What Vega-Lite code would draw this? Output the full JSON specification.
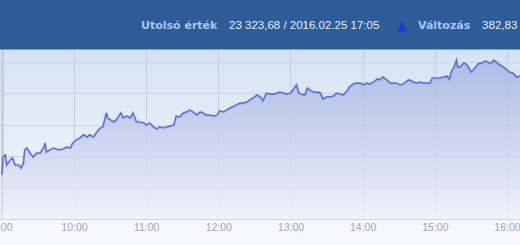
{
  "$schema": "https://vega.github.io/schema/vega-lite/v6.json",
  "width": 520,
  "height": 219,
  "autosize": {"type": "none"},
  "padding": {"left": 0, "right": 0, "top": 0, "bottom": 26},
  "background": "#f7f8fb",
  "config": {
    "view": {
      "stroke": null,
      "fill": {"gradient": "linear", "x1": 0, "y1": 0, "x2": 0, "y2": 1,
        "stops": [{"offset": 0.23, "color": "#d4e3f5"}, {"offset": 0.6, "color": "#e5edf8"}, {"offset": 1, "color": "#f3f5fb"}]}
    }
  },
  "datasets": {
    "bux": [
      {"minute": 540, "v": 22940}, {"minute": 541, "v": 22997}, {"minute": 543, "v": 23004},
      {"minute": 544, "v": 22972}, {"minute": 547, "v": 22988}, {"minute": 549, "v": 22994},
      {"minute": 551, "v": 22972}, {"minute": 554, "v": 22972}, {"minute": 556, "v": 22962},
      {"minute": 558, "v": 22978}, {"minute": 559, "v": 23020}, {"minute": 561, "v": 23026},
      {"minute": 563, "v": 23013}, {"minute": 566, "v": 22997}, {"minute": 569, "v": 23010},
      {"minute": 572, "v": 23010}, {"minute": 575, "v": 23029}, {"minute": 576, "v": 23042},
      {"minute": 577, "v": 23013}, {"minute": 580, "v": 23020}, {"minute": 583, "v": 23026},
      {"minute": 587, "v": 23020}, {"minute": 591, "v": 23023}, {"minute": 594, "v": 23029},
      {"minute": 597, "v": 23026}, {"minute": 599, "v": 23042}, {"minute": 602, "v": 23052},
      {"minute": 605, "v": 23058}, {"minute": 608, "v": 23068}, {"minute": 611, "v": 23061},
      {"minute": 613, "v": 23068}, {"minute": 616, "v": 23061}, {"minute": 619, "v": 23077},
      {"minute": 622, "v": 23090}, {"minute": 624, "v": 23093}, {"minute": 627, "v": 23138},
      {"minute": 628, "v": 23122}, {"minute": 633, "v": 23109}, {"minute": 635, "v": 23115},
      {"minute": 639, "v": 23138}, {"minute": 641, "v": 23122}, {"minute": 644, "v": 23128},
      {"minute": 647, "v": 23122}, {"minute": 649, "v": 23138}, {"minute": 652, "v": 23109},
      {"minute": 655, "v": 23109}, {"minute": 658, "v": 23106}, {"minute": 660, "v": 23099},
      {"minute": 663, "v": 23106}, {"minute": 666, "v": 23093}, {"minute": 669, "v": 23087},
      {"minute": 671, "v": 23093}, {"minute": 674, "v": 23090}, {"minute": 677, "v": 23093},
      {"minute": 680, "v": 23096}, {"minute": 683, "v": 23099}, {"minute": 685, "v": 23128},
      {"minute": 687, "v": 23125}, {"minute": 688, "v": 23125}, {"minute": 691, "v": 23138},
      {"minute": 694, "v": 23141}, {"minute": 696, "v": 23147}, {"minute": 699, "v": 23141},
      {"minute": 702, "v": 23131}, {"minute": 705, "v": 23141}, {"minute": 707, "v": 23138},
      {"minute": 710, "v": 23131}, {"minute": 713, "v": 23131}, {"minute": 716, "v": 23128},
      {"minute": 719, "v": 23131}, {"minute": 721, "v": 23144}, {"minute": 724, "v": 23141},
      {"minute": 727, "v": 23147}, {"minute": 730, "v": 23154}, {"minute": 732, "v": 23157},
      {"minute": 735, "v": 23163}, {"minute": 738, "v": 23169}, {"minute": 741, "v": 23169},
      {"minute": 744, "v": 23173}, {"minute": 746, "v": 23179}, {"minute": 749, "v": 23185},
      {"minute": 752, "v": 23195}, {"minute": 755, "v": 23189}, {"minute": 757, "v": 23176},
      {"minute": 760, "v": 23201}, {"minute": 763, "v": 23198}, {"minute": 766, "v": 23198},
      {"minute": 769, "v": 23201}, {"minute": 771, "v": 23204}, {"minute": 774, "v": 23201},
      {"minute": 777, "v": 23198}, {"minute": 780, "v": 23201}, {"minute": 782, "v": 23211},
      {"minute": 785, "v": 23227}, {"minute": 787, "v": 23201}, {"minute": 789, "v": 23198},
      {"minute": 792, "v": 23195}, {"minute": 794, "v": 23217}, {"minute": 796, "v": 23211},
      {"minute": 799, "v": 23204}, {"minute": 802, "v": 23204}, {"minute": 805, "v": 23201},
      {"minute": 807, "v": 23182}, {"minute": 810, "v": 23189}, {"minute": 813, "v": 23189},
      {"minute": 816, "v": 23192}, {"minute": 818, "v": 23201}, {"minute": 821, "v": 23198},
      {"minute": 824, "v": 23195}, {"minute": 827, "v": 23208}, {"minute": 829, "v": 23220},
      {"minute": 832, "v": 23230}, {"minute": 835, "v": 23233}, {"minute": 838, "v": 23233},
      {"minute": 841, "v": 23227}, {"minute": 843, "v": 23233}, {"minute": 846, "v": 23230},
      {"minute": 849, "v": 23236}, {"minute": 852, "v": 23246}, {"minute": 854, "v": 23243},
      {"minute": 857, "v": 23252}, {"minute": 860, "v": 23243}, {"minute": 863, "v": 23233},
      {"minute": 865, "v": 23233}, {"minute": 868, "v": 23233}, {"minute": 871, "v": 23227},
      {"minute": 874, "v": 23230}, {"minute": 877, "v": 23240}, {"minute": 879, "v": 23243},
      {"minute": 882, "v": 23236}, {"minute": 885, "v": 23233}, {"minute": 888, "v": 23236},
      {"minute": 890, "v": 23233}, {"minute": 893, "v": 23233}, {"minute": 896, "v": 23233},
      {"minute": 898, "v": 23249}, {"minute": 902, "v": 23249}, {"minute": 904, "v": 23249},
      {"minute": 907, "v": 23252}, {"minute": 910, "v": 23255}, {"minute": 912, "v": 23246},
      {"minute": 914, "v": 23271}, {"minute": 916, "v": 23284}, {"minute": 918, "v": 23306},
      {"minute": 919, "v": 23284}, {"minute": 921, "v": 23284}, {"minute": 924, "v": 23297},
      {"minute": 926, "v": 23294}, {"minute": 928, "v": 23284}, {"minute": 930, "v": 23268},
      {"minute": 932, "v": 23275}, {"minute": 934, "v": 23284}, {"minute": 936, "v": 23294},
      {"minute": 939, "v": 23297}, {"minute": 942, "v": 23303}, {"minute": 944, "v": 23300},
      {"minute": 945, "v": 23297}, {"minute": 947, "v": 23297}, {"minute": 949, "v": 23306},
      {"minute": 951, "v": 23300}, {"minute": 954, "v": 23290}, {"minute": 957, "v": 23284},
      {"minute": 960, "v": 23275}, {"minute": 962, "v": 23268}, {"minute": 965, "v": 23265},
      {"minute": 968, "v": 23252}, {"minute": 971, "v": 23255}
    ],
    "header": [{"top": 23600, "bottom": 23340}],
    "labels": [
      {"minute": 655.7, "v": 23415, "text": "Utolsó érték"},
      {"minute": 886.0, "v": 23415, "text": "Változás"}
    ],
    "values": [
      {"minute": 728.9, "v": 23415, "text": "23 323,68 / 2016.02.25 17:05"},
      {"minute": 939.3, "v": 23415, "text": "382,83"}
    ],
    "arrow": [{"minute": 872.3, "v": 23415, "text": "▲"}]
  },
  "layer": [
    {
      "data": {"name": "bux"},
      "mark": {"type": "area", "clip": true, "opacity": 0.8,
        "color": {"gradient": "linear", "x1": 0, "y1": 0, "x2": 0, "y2": 1,
          "stops": [{"offset": 0, "color": "#a3b3e2"}, {"offset": 0.5, "color": "#c6d0ee"}, {"offset": 1, "color": "#f0f2fa"}]}},
      "encoding": {
        "x": {
          "field": "minute", "type": "quantitative",
          "scale": {"domain": [538.5, 970.8], "nice": false, "zero": false},
          "axis": {
            "title": null, "values": [540, 600, 660, 720, 780, 840, 900, 960],
            "labelExpr": "floor(datum.value / 60) + ':00'",
            "grid": true, "gridColor": "#c6cfdd",
            "gridWidth": {"condition": {"test": "datum.value == 540", "value": 3}, "value": 1},
            "domain": false, "ticks": false, "labelPadding": 3,
            "labelFont": "Liberation Sans", "labelFontSize": 10.5, "labelColor": "#9ea4bc",
            "labelBound": false, "labelFlush": false, "labelOverlap": false
          }
        },
        "y": {
          "field": "v", "type": "quantitative",
          "scale": {"domain": [22800, 23497.5], "nice": false, "zero": false},
          "axis": {
            "title": null, "labels": false, "ticks": false, "domain": false,
            "values": [22800, 22900, 23000, 23100, 23200, 23300],
            "grid": true, "gridColor": "#cbd3e0"
          }
        },
        "y2": {"datum": 22800}
      }
    },
    {
      "data": {"name": "bux"},
      "mark": {"type": "line", "clip": true, "color": "#7e84a6", "strokeWidth": 2.4, "opacity": 0.4},
      "encoding": {"x": {"field": "minute", "type": "quantitative"}, "y": {"field": "v", "type": "quantitative"}}
    },
    {
      "data": {"name": "bux"},
      "mark": {"type": "line", "clip": true, "color": "#5d60e4", "strokeWidth": 1.2},
      "encoding": {"x": {"field": "minute", "type": "quantitative"}, "y": {"field": "v", "type": "quantitative"}}
    },
    {
      "data": {"name": "header"},
      "mark": {"type": "rect", "color": "#2d5c99", "clip": true},
      "encoding": {
        "y": {"field": "top", "type": "quantitative"},
        "y2": {"field": "bottom"}
      }
    },
    {
      "data": {"name": "labels"},
      "mark": {"type": "text", "align": "left", "baseline": "middle", "font": "DejaVu Sans", "fontWeight": "bold", "fontSize": 11, "color": "#a8c6ee"},
      "encoding": {"x": {"field": "minute", "type": "quantitative"}, "y": {"field": "v", "type": "quantitative"}, "text": {"field": "text"}}
    },
    {
      "data": {"name": "values"},
      "mark": {"type": "text", "align": "left", "baseline": "middle", "font": "Liberation Sans", "fontSize": 11.5, "color": "#e6edf7"},
      "encoding": {"x": {"field": "minute", "type": "quantitative"}, "y": {"field": "v", "type": "quantitative"}, "text": {"field": "text"}}
    },
    {
      "data": {"name": "arrow"},
      "mark": {"type": "text", "align": "center", "baseline": "middle", "font": "DejaVu Sans", "fontSize": 12.5, "color": "#1d38d8"},
      "encoding": {"x": {"field": "minute", "type": "quantitative"}, "y": {"field": "v", "type": "quantitative"}, "text": {"field": "text"}}
    }
  ]
}
